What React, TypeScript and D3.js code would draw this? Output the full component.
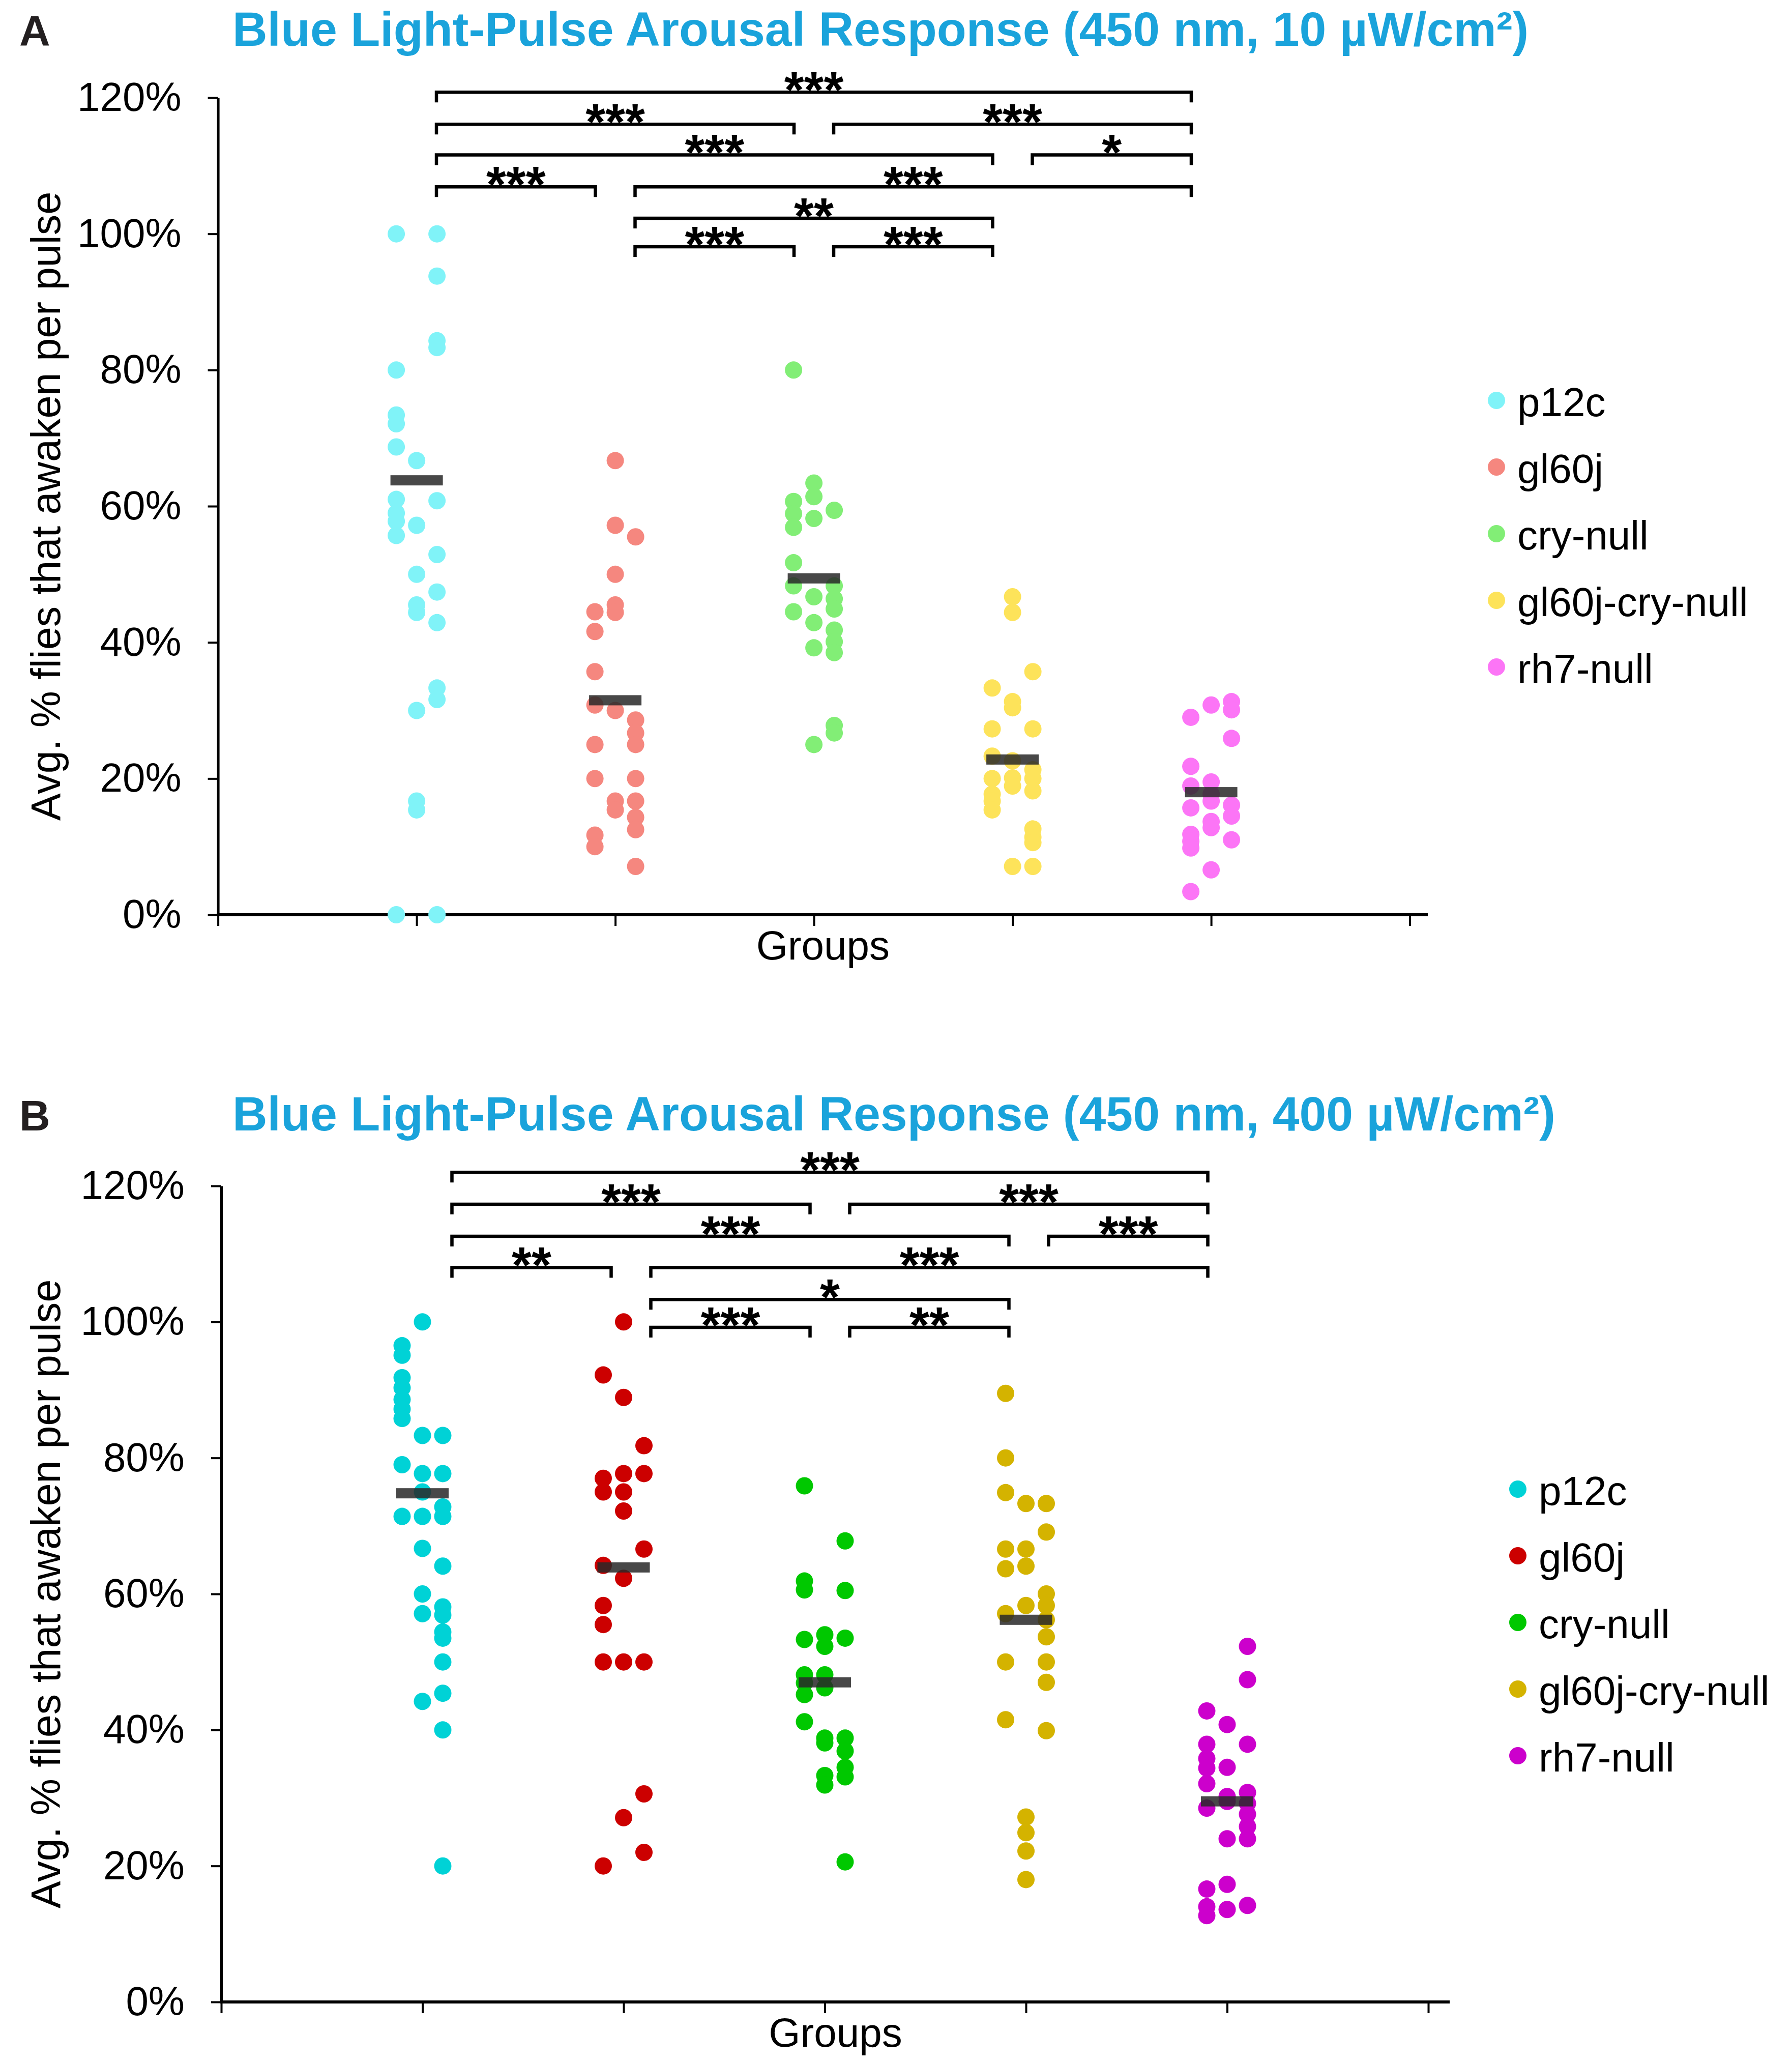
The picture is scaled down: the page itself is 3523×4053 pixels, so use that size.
import React, { useEffect, useRef } from "react";
import * as d3 from "d3";

// groups + colours
const groups = ["p12c", "gl60j", "cry-null", "gl60j-cry-null", "rh7-null"];
const colorsA = ["#80F3F8", "#F5877F", "#82EE76", "#FDE35A", "#FC75F6"];
const colorsB = ["#00D2D6", "#CC0000", "#00C800", "#D4B300", "#CC00CC"];
const yTicks = [0, 20, 40, 60, 80, 100, 120];
const xTicks = [0, 1, 2, 3, 4, 5, 6];

// each group: [left column, middle column, right column] values in %
const p12cA = [
  [100, 80.0, 73.4, 72.1, 68.7, 61.0, 59.0, 57.8, 55.7, 0],
  [66.7, 57.2, 50.0, 45.5, 44.4, 30.0, 16.7, 15.4],
  [100, 93.8, 84.3, 83.3, 60.8, 52.9, 47.4, 42.9, 33.3, 31.6, 0],
];
const gl60jA = [
  [44.5, 41.6, 35.7, 30.8, 25.0, 20.0, 11.7, 10.0],
  [66.7, 57.2, 50.0, 45.5, 44.4, 30.0, 16.7, 15.4],
  [55.5, 28.6, 26.7, 25.0, 20.0, 16.7, 14.3, 12.5, 7.1],
];
const cryA = [
  [80.0, 60.7, 58.9, 56.9, 51.7, 48.3, 44.5],
  [63.4, 61.4, 58.2, 46.7, 42.9, 39.2, 25.0],
  [59.4, 48.3, 46.4, 44.9, 41.8, 40.1, 38.5, 27.8, 26.7],
];
const gl60jCryA = [
  [33.3, 27.3, 23.3, 20.0, 17.7, 16.7, 15.4],
  [46.7, 44.4, 31.3, 30.4, 22.6, 20.1, 18.9, 7.1],
  [35.7, 27.3, 21.3, 20.0, 18.2, 12.6, 11.4, 10.6, 7.1],
];
const rh7A = [
  [29.0, 21.8, 18.9, 15.7, 11.8, 10.8, 9.8, 3.4],
  [30.8, 19.5, 17.7, 16.7, 13.7, 12.8, 6.6],
  [31.3, 30.1, 25.9, 16.1, 14.5, 11.0],
];
const meansA = [63.8, 31.5, 49.4, 22.8, 18.0];

const p12cB = [
  [96.5, 95.1, 91.8, 90.3, 88.6, 87.2, 85.8, 79.0, 71.4],
  [100, 83.3, 77.7, 75.0, 71.4, 66.7, 60.0, 57.1, 44.2],
  [83.3, 77.7, 72.8, 71.4, 64.1, 58.1, 56.9, 54.4, 53.5, 50.0, 45.4, 40.0, 20.0],
];
const gl60jB = [
  [92.2, 77.0, 75.0, 64.2, 58.3, 55.5, 50.0, 20.0],
  [100, 88.9, 77.7, 75.0, 72.2, 62.3, 50.0, 27.1],
  [81.8, 77.7, 66.6, 50.0, 30.6, 22.0],
];
const cryB = [
  [75.9, 61.9, 60.6, 53.3, 48.1, 46.9, 45.2, 41.2],
  [54.0, 52.3, 48.1, 46.2, 38.8, 38.1, 33.3, 31.9],
  [67.8, 60.5, 53.5, 38.8, 36.9, 34.5, 33.1, 20.6],
];
const gl60jCryB = [
  [89.5, 80.0, 74.9, 66.6, 63.7, 57.1, 50.0, 41.5],
  [73.3, 66.6, 64.1, 58.3, 27.2, 24.9, 22.2, 18.0],
  [73.3, 69.1, 60.0, 58.3, 56.2, 53.7, 50.0, 47.0, 39.9],
];
const rh7B = [
  [42.8, 37.9, 35.8, 34.4, 32.1, 28.5, 16.6, 14.0, 12.7],
  [40.8, 34.5, 30.2, 29.5, 24.0, 17.3, 13.6],
  [52.3, 47.4, 37.9, 30.8, 29.2, 27.6, 25.8, 24.0, 14.2],
];
const meansB = [74.8, 63.9, 47.0, 56.2, 29.5];

// [from group, to group, level %, label]
const bracketsA: [number, number, number, string][] = [
  [1, 5, 120.8, "***"],
  [1, 3, 116.1, "***"],
  [3, 5, 116.1, "***"],
  [1, 4, 111.6, "***"],
  [4, 5, 111.6, "*"],
  [1, 2, 106.9, "***"],
  [2, 5, 106.9, "***"],
  [2, 4, 102.3, "**"],
  [2, 3, 98.1, "***"],
  [3, 4, 98.1, "***"],
];
const bracketsB: [number, number, number, string][] = [
  [1, 5, 122.0, "***"],
  [1, 3, 117.3, "***"],
  [3, 5, 117.3, "***"],
  [1, 4, 112.6, "***"],
  [4, 5, 112.6, "***"],
  [1, 2, 108.0, "**"],
  [2, 5, 108.0, "***"],
  [2, 4, 103.3, "*"],
  [2, 3, 99.2, "***"],
  [3, 4, 99.2, "**"],
];

const titleA = "Blue Light-Pulse Arousal Response (450 nm, 10 µW/cm²)";
const titleB = "Blue Light-Pulse Arousal Response (450 nm, 400 µW/cm²)";

const FONT = "'Liberation Sans', Arial, sans-serif";
const W = 3523;
const H = 4053;

interface Panel {
  letter: string;
  title: string;
  titleY: number;
  top: number;      // px of 120%
  bottom: number;   // px of 0%
  left: number;     // px of x=0
  right: number;    // px of x=6
  axisEnd: number;
  bracketRange: [number, number];
  legendX: number;
  legendY: number;
  colors: string[];
  data: number[][][];
  means: number[];
  brackets: [number, number, number, string][];
}

function drawPanel(svg: d3.Selection<SVGSVGElement, unknown, null, undefined>, p: Panel) {
  const g = svg.append("g");
  const y = d3.scaleLinear().domain([0, 120]).range([p.bottom, p.top]);
  const x = d3.scaleLinear().domain([0, 6]).range([p.left, p.right]);
  const bx = d3.scaleLinear().domain([1, 5]).range(p.bracketRange);
  const colStep = 40;

  // letter + title
  g.append("text")
    .attr("x", 38).attr("y", p.titleY)
    .style("font-family", FONT).style("font-size", "84px").style("font-weight", "bold")
    .style("fill", "#231F20")
    .text(p.letter);
  g.append("text")
    .attr("x", 457).attr("y", p.titleY)
    .style("font-family", FONT).style("font-size", "95px").style("font-weight", "bold")
    .style("fill", "#1AA3DB")
    .text(p.title);

  // y axis
  const yAxis = g.append("g")
    .attr("transform", `translate(${p.left},0)`)
    .call(d3.axisLeft(y).tickValues(yTicks).tickFormat(d => `${d}%`).tickSize(20).tickSizeOuter(0).tickPadding(52));
  yAxis.select(".domain").attr("stroke", "#000").attr("stroke-width", 5);
  yAxis.selectAll(".tick line").attr("stroke", "#000").attr("stroke-width", 4);
  yAxis.selectAll("text")
    .style("font-family", FONT).style("font-size", "80px").style("fill", "#000");

  // x axis
  const xAxis = g.append("g")
    .attr("transform", `translate(0,${p.bottom})`)
    .call(d3.axisBottom(x).tickValues(xTicks).tickFormat(() => "").tickSize(22).tickSizeOuter(0));
  xAxis.select(".domain").remove();
  xAxis.selectAll(".tick line").attr("stroke", "#000").attr("stroke-width", 4);
  g.append("line")
    .attr("x1", p.left - 2).attr("x2", p.axisEnd)
    .attr("y1", p.bottom).attr("y2", p.bottom)
    .attr("stroke", "#000").attr("stroke-width", 6);

  g.append("text")
    .attr("x", (p.left + p.axisEnd) / 2).attr("y", p.bottom + 88)
    .attr("text-anchor", "middle")
    .style("font-family", FONT).style("font-size", "80px").style("fill", "#000")
    .text("Groups");

  g.append("text")
    .attr("transform", `translate(118,${(p.top + p.bottom) / 2}) rotate(-90)`)
    .attr("text-anchor", "middle")
    .style("font-family", FONT).style("font-size", "81px").style("fill", "#000")
    .text("Avg. % flies that awaken per pulse");

  // dots
  p.data.forEach((cols, gi) => {
    const pts = cols.flatMap((vals, ci) => vals.map(v => ({ v, c: ci - 1 })));
    g.append("g").selectAll("circle")
      .data(pts)
      .enter()
      .append("circle")
      .attr("cx", d => x(gi + 1) + d.c * colStep)
      .attr("cy", d => y(d.v))
      .attr("r", 17)
      .attr("fill", p.colors[gi]);
  });

  // mean bars
  g.append("g").selectAll("rect")
    .data(p.means)
    .enter()
    .append("rect")
    .attr("x", (d, i) => x(i + 1) - 51.5)
    .attr("y", d => y(d) - 10)
    .attr("width", 103)
    .attr("height", 20)
    .attr("fill", "#282828")
    .attr("opacity", 0.85);

  // significance brackets
  const br = g.append("g");
  p.brackets.forEach(([a, b, lvl, lab]) => {
    const x1 = bx(a) + 39;
    const x2 = bx(b) - 39;
    const ly = y(lvl);
    br.append("path")
      .attr("d", `M${x1},${ly + 20}V${ly}H${x2}V${ly + 20}`)
      .attr("fill", "none")
      .attr("stroke", "#000")
      .attr("stroke-width", 6.5);
    br.append("text")
      .attr("x", (x1 + x2) / 2).attr("y", ly + 30)
      .attr("text-anchor", "middle")
      .style("font-family", FONT).style("font-size", "100px").style("font-weight", "bold")
      .style("fill", "#000")
      .text(lab);
  });

  // legend
  const lg = g.append("g");
  groups.forEach((name, i) => {
    const ly = p.legendY + i * 131;
    lg.append("circle")
      .attr("cx", p.legendX).attr("cy", ly).attr("r", 17)
      .attr("fill", p.colors[i]);
    lg.append("text")
      .attr("x", p.legendX + 41).attr("y", ly + 31)
      .style("font-family", FONT).style("font-size", "80px").style("fill", "#000")
      .text(name);
  });
}

const App: React.FC = () => {
  const svgRef = useRef<SVGSVGElement | null>(null);

  useEffect(() => {
    document.body.style.margin = "0";
    const svg = d3.select(svgRef.current!);
    svg.selectAll("*").remove();

    drawPanel(svg, {
      letter: "A", title: titleA, titleY: 90,
      top: 192, bottom: 1798, left: 428.6, right: 2771.6, axisEnd: 2807,
      bracketRange: [819, 2381],
      legendX: 2942, legendY: 787,
      colors: colorsA,
      data: [p12cA, gl60jA, cryA, gl60jCryA, rh7A],
      means: meansA,
      brackets: bracketsA,
    });
    drawPanel(svg, {
      letter: "B", title: titleB, titleY: 2222,
      top: 2331, bottom: 3935, left: 435, right: 2808, axisEnd: 2850,
      bracketRange: [849.5, 2413.5],
      legendX: 2984, legendY: 2927,
      colors: colorsB,
      data: [p12cB, gl60jB, cryB, gl60jCryB, rh7B],
      means: meansB,
      brackets: bracketsB,
    });
  }, []);

  return (
    <svg ref={svgRef} width={W} height={H} style={{ display: "block", background: "#fff" }} />
  );
};

export default App;
